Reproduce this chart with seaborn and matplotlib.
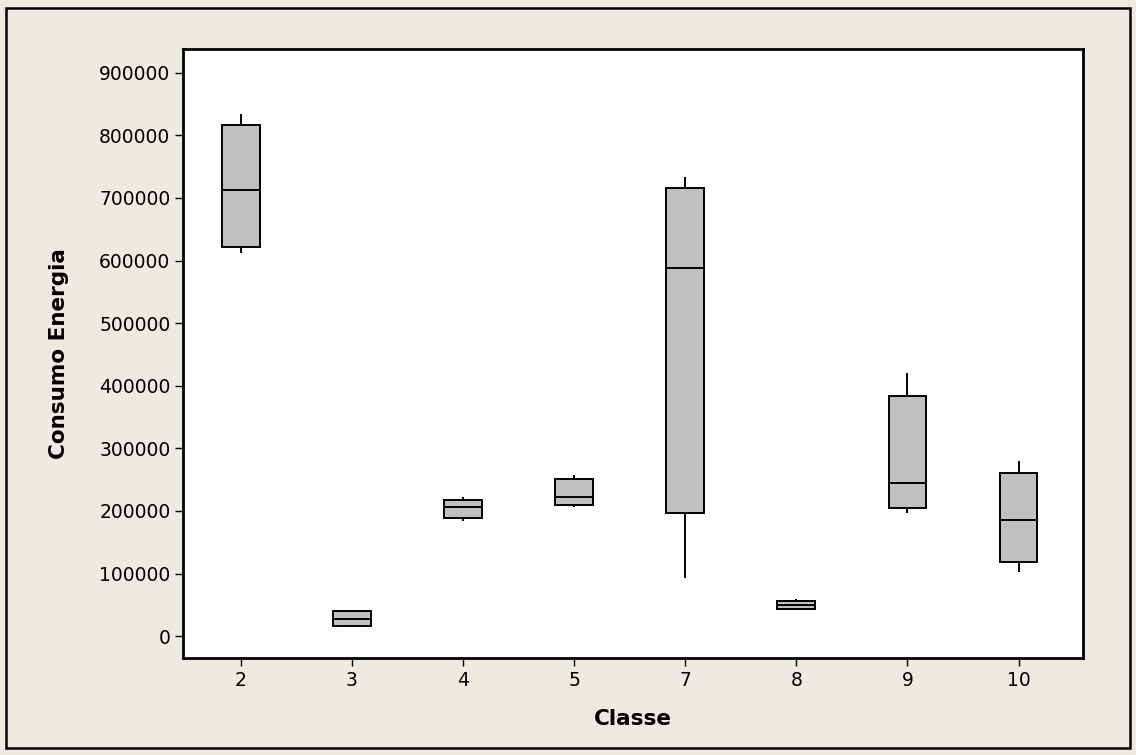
import matplotlib
matplotlib.use('Agg')
import matplotlib.pyplot as plt
import seaborn as sns
import pandas as pd
import numpy as np
from matplotlib.patches import Rectangle

# --
# Five-number summaries (per Classe)

classes = ['2', '3', '4', '5', '7', '8', '9', '10']
mins = [612000, 14000, 184000, 207000, 93000, 41000, 197000, 102000]
q1s = [622000, 16000, 188000, 209000, 197000, 44000, 204000, 118000]
medians = [713000, 27000, 206500, 222000, 588000, 49500, 245000, 185000]
q3s = [817000, 40000, 218000, 251000, 716000, 56000, 384000, 261000]
maxs = [834000, 42000, 222000, 258000, 734000, 60000, 421000, 280000]

# long table: 5 points per class reproduce the quartiles exactly
rows = []
for i, c in enumerate(classes):
    for v in (mins[i], q1s[i], medians[i], q3s[i], maxs[i]):
        rows.append({'Classe': c, 'Consumo Energia': v})
df = pd.DataFrame(rows)

# --
# Plot

bg = '#EEEAE1'
fig = plt.figure(figsize=(11.36, 7.55), dpi=100, facecolor=bg)
ax = fig.add_axes([183 / 1136, 97 / 755, 900 / 1136, 609 / 755])
ax.set_facecolor('white')

sns.boxplot(data=df, x='Classe', y='Consumo Energia', order=classes,
            color='#C0C0C0', saturation=1, width=0.34, whis=(0, 100),
            showcaps=False, linecolor='black', linewidth=1.4, ax=ax)

ax.set_ylim(-35000, 938000)
ax.set_xlim(-0.52, 7.58)
ax.set_yticks(np.arange(0, 900001, 100000))
ax.set_yticklabels([str(int(v)) for v in np.arange(0, 900001, 100000)])

for s in ax.spines.values():
    s.set_linewidth(2)
    s.set_color('black')

ax.tick_params(axis='both', direction='out', length=6, width=1,
               labelsize=13.5, colors='black', pad=3)
ax.set_xlabel('Classe', fontsize=15.5, fontweight='bold', labelpad=14)
ax.set_ylabel('Consumo Energia', fontsize=15.5, fontweight='bold', labelpad=22)

# outer frame of the figure
fig.patches.append(Rectangle((6 / 1136, 7 / 755), 1124 / 1136, 740 / 755,
                             transform=fig.transFigure, fill=False,
                             edgecolor='black', linewidth=1.8))

fig.savefig('out.png', dpi=100, facecolor=bg)
